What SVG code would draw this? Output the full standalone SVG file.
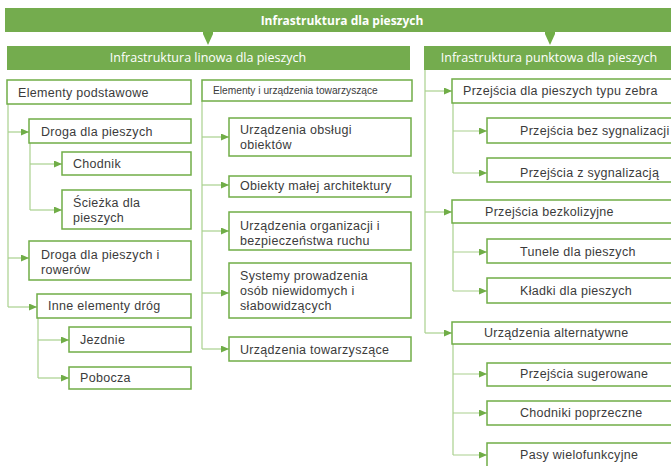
<svg xmlns="http://www.w3.org/2000/svg" width="671" height="466" viewBox="0 0 671 466">
  <style>
    .bar { fill: #74AC4E; }
    .box { fill: #ffffff; stroke: #70AD47; stroke-width: 1.5; }
    .t { font-family: "Liberation Sans", Arial, sans-serif; font-size: 12.5px; letter-spacing: 0.3px; fill: #3b3b3b; }
    .small { font-size: 10.2px; letter-spacing: 0px; }
    .bt { font-family: "Open Sans", "Liberation Sans", sans-serif; fill: #ffffff; text-anchor: middle; }
    .wire { fill: none; stroke: #A9D08E; stroke-width: 1.2; }
    .head { fill: #70AD47; }
  </style>
  <defs>
    <marker id="arr" markerWidth="8" markerHeight="7" refX="8" refY="3.5" orient="auto" markerUnits="userSpaceOnUse">
      <path class="head" d="M0,0 L8,3.5 L0,7 z"/>
    </marker>
  </defs>
  <rect width="671" height="466" fill="#ffffff"/>

  <!-- header bars -->
  <g id="root">
    <rect class="bar" x="5" y="8" width="680" height="24"/>
    <text class="bt" x="342" y="24.5" font-size="12" font-weight="bold">Infrastruktura dla pieszych</text>
  </g>
  <g id="linear">
    <rect class="bar" x="7" y="46" width="403" height="24"/>
    <text class="bt" x="208" y="62" font-size="12.5">Infrastruktura linowa dla pieszych</text>
  </g>
  <g id="point">
    <rect class="bar" x="424" y="46" width="260" height="24"/>
    <text class="bt" x="549" y="62" font-size="12.5">Infrastruktura punktowa dla pieszych</text>
  </g>

  <!-- connectors -->
  <g id="connectors">
    <polygon class="head" points="203,32 213,32 213,34 208,45 203,34"/>
    <polygon class="head" points="545,32 555,32 555,34 550,45 545,34"/>

    <path class="wire" d="M8,104 V307"/>
    <path class="wire" d="M8,132 H29" marker-end="url(#arr)"/>
    <path class="wire" d="M8,258 H29" marker-end="url(#arr)"/>
    <path class="wire" d="M8,307 H37" marker-end="url(#arr)"/>
    <path class="wire" d="M30,143 V210"/>
    <path class="wire" d="M30,164 H62" marker-end="url(#arr)"/>
    <path class="wire" d="M30,210 H62" marker-end="url(#arr)"/>
    <path class="wire" d="M38,318 V378"/>
    <path class="wire" d="M38,340 H69" marker-end="url(#arr)"/>
    <path class="wire" d="M38,378 H69" marker-end="url(#arr)"/>

    <path class="wire" d="M202,101 V349"/>
    <path class="wire" d="M202,137 H229" marker-end="url(#arr)"/>
    <path class="wire" d="M202,185 H229" marker-end="url(#arr)"/>
    <path class="wire" d="M202,231 H229" marker-end="url(#arr)"/>
    <path class="wire" d="M202,293 H229" marker-end="url(#arr)"/>
    <path class="wire" d="M202,349 H229" marker-end="url(#arr)"/>

    <path class="wire" d="M425,70 V333"/>
    <path class="wire" d="M425,91 H452" marker-end="url(#arr)"/>
    <path class="wire" d="M425,212 H452" marker-end="url(#arr)"/>
    <path class="wire" d="M425,333 H452" marker-end="url(#arr)"/>
    <path class="wire" d="M453,103 V173"/>
    <path class="wire" d="M453,131 H487" marker-end="url(#arr)"/>
    <path class="wire" d="M453,173 H487" marker-end="url(#arr)"/>
    <path class="wire" d="M453,223 V291"/>
    <path class="wire" d="M453,252 H487" marker-end="url(#arr)"/>
    <path class="wire" d="M453,291 H487" marker-end="url(#arr)"/>
    <path class="wire" d="M453,344 V455"/>
    <path class="wire" d="M453,374 H487" marker-end="url(#arr)"/>
    <path class="wire" d="M453,413 H487" marker-end="url(#arr)"/>
    <path class="wire" d="M453,455 H487" marker-end="url(#arr)"/>
  </g>

  <!-- linear infrastructure: basic elements -->
  <g id="basic">
    <rect class="box" x="7" y="80" width="184" height="24"/>
    <text class="t" x="18" y="97">Elementy podstawowe</text>
  </g>
  <g id="footway">
    <rect class="box" x="29" y="119" width="162" height="24"/>
    <text class="t" x="41" y="136">Droga dla pieszych</text>
  </g>
  <g id="sidewalk">
    <rect class="box" x="62" y="152" width="129" height="23"/>
    <text class="t" x="73" y="168">Chodnik</text>
  </g>
  <g id="path">
    <rect class="box" x="62" y="190" width="129" height="39"/>
    <text class="t" x="73" y="207">Ścieżka dla</text>
    <text class="t" x="73" y="222">pieszych</text>
  </g>
  <g id="shared">
    <rect class="box" x="29" y="241" width="162" height="39"/>
    <text class="t" x="41" y="259">Droga dla pieszych i</text>
    <text class="t" x="41" y="274">rowerów</text>
  </g>
  <g id="other">
    <rect class="box" x="37" y="294" width="154" height="24"/>
    <text class="t" x="48" y="310">Inne elementy dróg</text>
  </g>
  <g id="roadway">
    <rect class="box" x="69" y="327" width="122" height="25"/>
    <text class="t" x="80" y="344">Jezdnie</text>
  </g>
  <g id="shoulder">
    <rect class="box" x="69" y="367" width="122" height="22"/>
    <text class="t" x="80" y="382">Pobocza</text>
  </g>

  <!-- linear infrastructure: accompanying elements -->
  <g id="accompanying">
    <rect class="box" x="202" y="80" width="210" height="21"/>
    <text class="t small" x="213" y="94">Elementy i urządzenia towarzyszące</text>
  </g>
  <g id="service">
    <rect class="box" x="229" y="118" width="182" height="38"/>
    <text class="t" x="240" y="134">Urządzenia obsługi</text>
    <text class="t" x="240" y="149">obiektów</text>
  </g>
  <g id="smallarch">
    <rect class="box" x="229" y="176" width="182" height="21"/>
    <text class="t" x="240" y="190">Obiekty małej architektury</text>
  </g>
  <g id="traffic">
    <rect class="box" x="229" y="212" width="182" height="38"/>
    <text class="t" x="240" y="230">Urządzenia organizacji i</text>
    <text class="t" x="240" y="245">bezpieczeństwa ruchu</text>
  </g>
  <g id="guidance">
    <rect class="box" x="229" y="263" width="182" height="55"/>
    <text class="t" x="240" y="280">Systemy prowadzenia</text>
    <text class="t" x="240" y="295">osób niewidomych i</text>
    <text class="t" x="240" y="310">słabowidzących</text>
  </g>
  <g id="auxiliary">
    <rect class="box" x="229" y="337" width="182" height="24"/>
    <text class="t" x="240" y="354">Urządzenia towarzyszące</text>
  </g>

  <!-- point infrastructure -->
  <g id="zebra">
    <rect class="box" x="452" y="79" width="230" height="24"/>
    <text class="t" x="463" y="95">Przejścia dla pieszych typu zebra</text>
  </g>
  <g id="unsignalised">
    <rect class="box" x="487" y="118" width="195" height="25"/>
    <text class="t" x="520" y="135">Przejścia bez sygnalizacji</text>
  </g>
  <g id="signalised">
    <rect class="box" x="487" y="158" width="195" height="24"/>
    <text class="t" x="520" y="177">Przejścia z sygnalizacją</text>
  </g>
  <g id="grade">
    <rect class="box" x="452" y="200" width="230" height="23"/>
    <text class="t" x="485" y="216">Przejścia bezkolizyjne</text>
  </g>
  <g id="tunnels">
    <rect class="box" x="487" y="239" width="195" height="24"/>
    <text class="t" x="520" y="256">Tunele dla pieszych</text>
  </g>
  <g id="bridges">
    <rect class="box" x="487" y="278" width="195" height="25"/>
    <text class="t" x="520" y="295">Kładki dla pieszych</text>
  </g>
  <g id="alternative">
    <rect class="box" x="452" y="322" width="230" height="22"/>
    <text class="t" x="484" y="337">Urządzenia alternatywne</text>
  </g>
  <g id="suggested">
    <rect class="box" x="487" y="363" width="195" height="23"/>
    <text class="t" x="520" y="378">Przejścia sugerowane</text>
  </g>
  <g id="transverse">
    <rect class="box" x="487" y="401" width="195" height="24"/>
    <text class="t" x="520" y="417">Chodniki poprzeczne</text>
  </g>
  <g id="multi">
    <rect class="box" x="487" y="443" width="195" height="30"/>
    <text class="t" x="520" y="459">Pasy wielofunkcyjne</text>
  </g>
</svg>
